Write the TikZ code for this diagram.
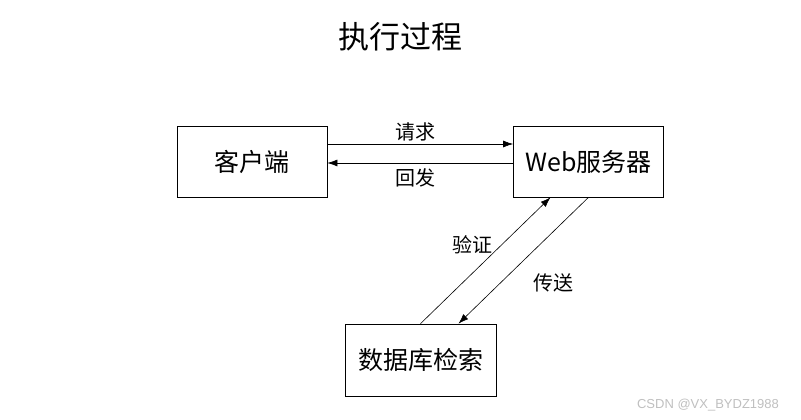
\documentclass[tikz,border=0pt]{standalone}
\usepackage{fontspec}
\newfontfamily\cjk{Noto Sans CJK SC}
\setsansfont{Liberation Sans}
\usetikzlibrary{positioning}
\usetikzlibrary{arrows.meta}

\tikzset{
  box/.style={draw, line width=0.7pt, minimum width=150pt, minimum height=71pt,
    font=\cjk\fontsize{25}{25}\selectfont},
  tag/.style={font=\cjk\fontsize{20}{20}\selectfont},
  link/.style={line width=0.6pt, arrows={-Latex[length=10pt,width=7pt]}}
}

\begin{document}
\begin{tikzpicture}[x=1pt, y=-1pt]

    \useasboundingbox (0,0) rectangle (801,420);

    % title
    \node [font=\cjk\fontsize{31}{31}\selectfont] (title) at (400, 37) {执行过程};

    % the three parts
    \node [box] (client) at (252, 161.5) {客户端};
    \node [box] (webserver) at (588.5, 161.5) {Web服务器};
    \node [box, minimum width=151pt, minimum height=72pt] (database) at (420.5, 360) {数据库检索};

    % request / answer
    \draw [link] ([yshift=17.5pt]client.east) -- ([yshift=17.5pt]webserver.west);
    \draw [link] ([yshift=-1.5pt]webserver.west) -- ([yshift=-1.5pt]client.east);
    \node [tag] (request) at (415, 132) {请求};
    \node [tag] (answer) at (415, 178) {回发};

    % checking / sending
    \draw [link] (database.north) -- ([xshift=-38pt]webserver.south);
    \draw [link] (webserver.south) -- ([xshift=38pt]database.north);
    \node [tag] (check) at (472, 245) {验证};
    \node [tag] (send) at (553, 283) {传送};

    % watermark
    \node [font=\sffamily\fontsize{13}{13}\selectfont, text=black!25] (mark) at (708, 405) {CSDN @VX\_BYDZ1988};

\end{tikzpicture}
\end{document}
